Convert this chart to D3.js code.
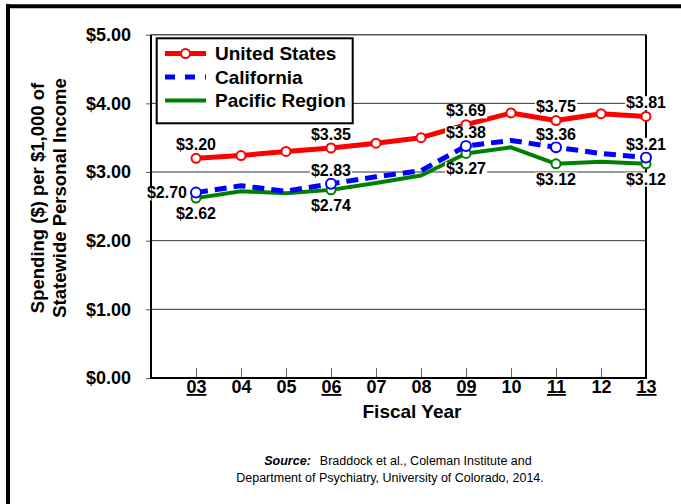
<!DOCTYPE html>
<html>
<head>
<meta charset="utf-8">
<script src="https://cdn.jsdelivr.net/npm/d3@7"></script>
<style>
  body { margin: 0; background: #fff; }
  svg { display: block; font-family: "Liberation Sans", Arial, sans-serif; }
</style>
</head>
<body>
<svg id="chart" width="681" height="504"></svg>
<script>
var years = ["03", "04", "05", "06", "07", "08", "09", "10", "11", "12", "13"];
var yearNums = [3, 4, 5, 6, 7, 8, 9, 10, 11, 12, 13];
var unitedStates = [3.20, 3.24, 3.30, 3.35, 3.42, 3.50, 3.69, 3.86, 3.75, 3.85, 3.81];
var california = [2.70, 2.80, 2.72, 2.83, 2.93, 3.02, 3.38, 3.46, 3.36, 3.27, 3.21];
var pacific = [2.62, 2.72, 2.69, 2.74, 2.84, 2.95, 3.27, 3.36, 3.12, 3.15, 3.12];
var labeled = [0, 3, 6, 8, 10];
var yTicks = [0, 1, 2, 3, 4, 5];

var svg = d3.select('#chart');
var plotL = 151, plotR = 646, plotT = 34.7, plotB = 378;

var x = d3.scaleLinear().domain([2, 13]).range([plotL, plotR]);
var y = d3.scaleLinear().domain([0, 5]).range([plotB, plotT]);
var money = function(v) { return '$' + v.toFixed(2); };

// outer frame (top and left only)
svg.append('line').attr('x1', 6).attr('x2', 681).attr('y1', 6.3).attr('y2', 6.3)
    .attr('stroke', '#000').attr('stroke-width', 4);
svg.append('line').attr('x1', 8).attr('x2', 8).attr('y1', 4.3).attr('y2', 504)
    .attr('stroke', '#000').attr('stroke-width', 4);

// gridlines
svg.append('g').selectAll('line')
    .data([1, 2, 3, 4])
    .enter().append('line')
    .attr('x1', plotL).attr('x2', plotR)
    .attr('y1', function(d) { return y(d); })
    .attr('y2', function(d) { return y(d); })
    .attr('stroke', '#333').attr('stroke-width', 1);
svg.append('line').attr('x1', plotL).attr('x2', plotR).attr('y1', plotT).attr('y2', plotT)
    .attr('stroke', '#555').attr('stroke-width', 1.5);

// y axis
var yAxis = svg.append('g')
    .attr('transform', 'translate(' + plotL + ',0)')
    .call(d3.axisLeft(y).tickValues(yTicks).tickSize(5).tickPadding(15).tickFormat(money));
yAxis.select('.domain').remove();
yAxis.selectAll('.tick line').attr('stroke', '#555');
yAxis.selectAll('text').attr('font-size', '18px').attr('font-weight', 'bold')
    .attr('fill', '#000').attr('font-family', '"Liberation Sans", Arial, sans-serif');

// x axis
var xAxis = svg.append('g')
    .attr('transform', 'translate(0,' + plotB + ')')
    .call(d3.axisBottom(x).tickValues(yearNums).tickSize(-10).tickPadding(6)
        .tickFormat(function(d, i) { return years[i]; }));
xAxis.select('.domain').remove();
xAxis.selectAll('.tick line').attr('stroke', '#666');
xAxis.selectAll('text').attr('font-size', '18px').attr('font-weight', 'bold')
    .attr('fill', '#000').attr('dy', '9px')
    .attr('font-family', '"Liberation Sans", Arial, sans-serif')
    .attr('text-decoration', function(d, i) { return labeled.indexOf(i) >= 0 ? 'underline' : null; });

// plot box
svg.append('path')
    .attr('d', 'M' + plotL + ',' + plotT + 'V' + plotB + 'H' + plotR + 'V' + plotT)
    .attr('fill', 'none').attr('stroke', '#000').attr('stroke-width', 2);

// axis titles
svg.append('text').attr('transform', 'translate(44,198) rotate(-90)')
    .attr('text-anchor', 'middle').attr('font-size', '18.5px').attr('font-weight', 'bold')
    .text('Spending ($) per $1,000 of');
svg.append('text').attr('transform', 'translate(66,198) rotate(-90)')
    .attr('text-anchor', 'middle').attr('font-size', '18.5px').attr('font-weight', 'bold')
    .text('Statewide Personal Income');
svg.append('text').attr('x', 412).attr('y', 418)
    .attr('text-anchor', 'middle').attr('font-size', '19px').attr('font-weight', 'bold')
    .text('Fiscal Year');

var series = [
    { name: 'Pacific Region', values: pacific, color: '#008000', width: 4, dash: null, all: false, dy: 15 },
    { name: 'California', values: california, color: '#0000ff', width: 5, dash: '12,7', all: false, dy: -13.5 },
    { name: 'United States', values: unitedStates, color: '#ff0000', width: 5, dash: null, all: true, dy: -14 }
];

var line = d3.line()
    .x(function(d, i) { return x(yearNums[i]); })
    .y(function(d) { return y(d); });

series.forEach(function(s) {
    svg.append('path').datum(s.values)
        .attr('d', line)
        .attr('fill', 'none')
        .attr('stroke', s.color)
        .attr('stroke-width', s.width)
        .attr('stroke-dasharray', s.dash)
        .attr('stroke-linejoin', 'round');
    var pts = s.values.map(function(v, i) { return { v: v, i: i }; })
        .filter(function(p) { return s.all || labeled.indexOf(p.i) >= 0; });
    svg.append('g').selectAll('circle')
        .data(pts)
        .enter().append('circle')
        .attr('cx', function(p) { return x(yearNums[p.i]); })
        .attr('cy', function(p) { return y(p.v); })
        .attr('r', s.name === 'California' ? 5 : 4.5)
        .attr('fill', '#fff')
        .attr('stroke', s.color)
        .attr('stroke-width', 2);
});

// data labels with white background
function addLabel(px, py, txt, anchor) {
    var g = svg.append('g');
    var t = g.append('text').attr('x', px).attr('y', py)
        .attr('text-anchor', anchor).attr('dy', '0.36em')
        .attr('font-size', '16px').attr('font-weight', 'bold').text(txt);
    var b = t.node().getBBox();
    g.insert('rect', 'text').attr('x', b.x - 1).attr('y', b.y + 2)
        .attr('width', b.width + 2).attr('height', b.height - 3).attr('fill', '#fff');
}

series.forEach(function(s) {
    labeled.forEach(function(i) {
        var px = x(yearNums[i]), py = y(s.values[i]);
        if (s.name === 'California' && i === 0) {
            addLabel(px - 9, py, money(s.values[i]), 'end');
        } else {
            addLabel(px, py + s.dy, money(s.values[i]), 'middle');
        }
    });
});

// legend
var legend = svg.append('g');
legend.append('rect').attr('x', 156.7).attr('y', 38.3).attr('width', 196).attr('height', 85)
    .attr('fill', '#fff').attr('stroke', '#000').attr('stroke-width', 2);
var legendItems = series.slice().reverse();
legendItems.forEach(function(s, k) {
    var ly = 53.5 + k * 23.5;
    legend.append('line').attr('x1', 165).attr('x2', 206).attr('y1', ly).attr('y2', ly)
        .attr('stroke', s.color).attr('stroke-width', s.width)
        .attr('stroke-dasharray', s.dash ? '10,10' : null);
    if (s.all) {
        legend.append('circle').attr('cx', 185.5).attr('cy', ly).attr('r', 4.5)
            .attr('fill', '#fff').attr('stroke', s.color).attr('stroke-width', 2);
    }
    legend.append('text').attr('x', 215).attr('y', ly).attr('dy', '0.36em')
        .attr('font-size', '19px').attr('font-weight', 'bold').text(s.name);
});

// source note
var src1 = svg.append('text').attr('x', 398).attr('y', 465).attr('text-anchor', 'middle')
    .attr('font-size', '12.5px');
src1.append('tspan').attr('font-weight', 'bold').attr('font-style', 'italic').text('Source:');
src1.append('tspan').attr('dx', 9).text('Braddock et al., Coleman Institute and');
svg.append('text').attr('x', 390).attr('y', 482).attr('text-anchor', 'middle')
    .attr('font-size', '12.5px')
    .text('Department of Psychiatry, University of Colorado, 2014.');
</script>
</body>
</html>
